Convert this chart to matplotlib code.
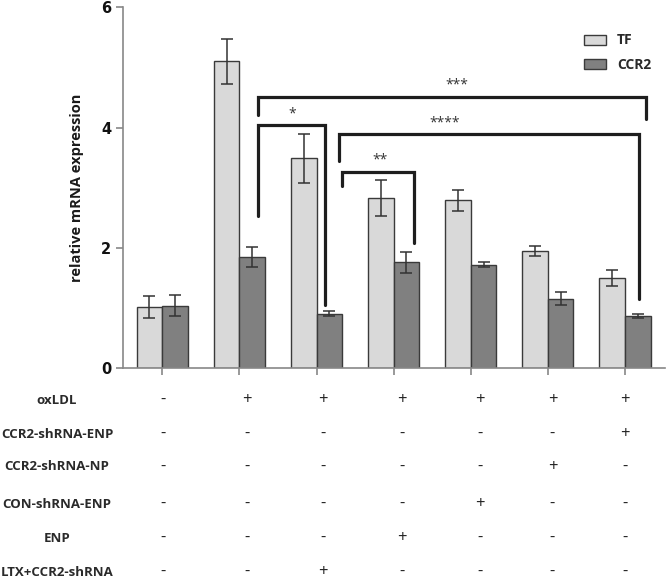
import numpy as np
import matplotlib
matplotlib.use("Agg")
import matplotlib.pyplot as plt
import matplotlib.transforms as mtransforms

plt.rcParams['font.family'] = ['Open Sans', 'DejaVu Sans']

# data
tf = [1.02, 5.10, 3.49, 2.83, 2.79, 1.95, 1.50]
tf_err = [0.18, 0.37, 0.41, 0.30, 0.17, 0.08, 0.14]
ccr2 = [1.04, 1.85, 0.91, 1.76, 1.72, 1.16, 0.87]
ccr2_err = [0.17, 0.17, 0.04, 0.18, 0.04, 0.11, 0.04]

row_names = ['oxLDL', 'CCR2-shRNA-ENP', 'CCR2-shRNA-NP', 'CON-shRNA-ENP',
             'ENP', 'LTX+CCR2-shRNA']
table = [['-', '+', '+', '+', '+', '+', '+'],
         ['-', '-', '-', '-', '-', '-', '+'],
         ['-', '-', '-', '-', '-', '+', '-'],
         ['-', '-', '-', '-', '+', '-', '-'],
         ['-', '-', '-', '+', '-', '-', '-'],
         ['-', '-', '+', '-', '-', '-', '-']]

# significance brackets: (x left, y left end, x right, y right end, top, label, label x)
brackets = [(1.24, 2.53, 2.11, 1.06, 4.04, '*', 1.68),
            (1.24, 4.21, 6.27, 4.15, 4.51, '***', 3.82),
            (2.29, 3.44, 6.18, 1.16, 3.89, '****', 3.66),
            (2.33, 3.03, 3.26, 2.09, 3.27, '**', 2.83)]

W, H = 668, 579
fig = plt.figure(figsize=(W / 100, H / 100), dpi=100)
ax = fig.add_axes([123 / W, 1 - 368.3 / H, (665 - 123) / W, (368.3 - 7.3) / H])

x = np.arange(len(tf))
bw = 0.333
ekw = dict(ecolor='#333333', elinewidth=1.1, capsize=4.5, capthick=1.1)
ax.bar(x - bw / 2, tf, bw, yerr=tf_err, color='#d9d9d9', edgecolor='#3a3a3a',
       linewidth=1.0, label='TF', error_kw=ekw)
ax.bar(x + bw / 2, ccr2, bw, yerr=ccr2_err, color='#808080', edgecolor='#3a3a3a',
       linewidth=1.0, label='CCR2', error_kw=ekw)

ax.set_xlim(-0.51, 6.52)
ax.set_ylim(0, 6)
ax.set_yticks([0, 2, 4, 6])
ax.set_xticks(x)
ax.set_xticklabels([])
for s in ['top', 'right']:
    ax.spines[s].set_visible(False)
for s in ['left', 'bottom']:
    ax.spines[s].set_color('#888888')
    ax.spines[s].set_linewidth(1.2)
ax.tick_params(axis='both', colors='#888888', length=5, width=1.2)
ax.tick_params(axis='y', labelcolor='#111111', labelsize=10.5)
for t in ax.get_yticklabels():
    t.set_fontweight('bold')
    t.set_family('DejaVu Sans')
ax.set_ylabel('relative mRNA expression', fontsize=10.5, fontweight='bold',
              color='#1a1a1a', labelpad=12)

for xl, yl, xr, yr, top, lab, lx in brackets:
    ax.plot([xl, xl, xr, xr], [yl, top, top, yr], color='#1e1e1e', lw=2.3,
            solid_joinstyle='miter', solid_capstyle='round', clip_on=False)
    ax.text(lx, top + 0.07, lab, ha='center', va='bottom', fontsize=10,
            color='#333333')

leg = ax.legend(loc='upper left', bbox_to_anchor=(571 / W, 1 - 21 / H),
                bbox_transform=fig.transFigure, frameon=False, fontsize=10,
                handlelength=1.6, handleheight=0.75, labelspacing=0.75,
                handletextpad=0.8)
for t in leg.get_texts():
    t.set_fontweight('bold')
    t.set_color('#2a2a2a')

# treatment table under the axis
col_x = [0.01, 1.10, 2.08, 3.11, 4.12, 5.06, 6.0]
row_y = [400, 434, 467, 504, 538, 572]
tr = mtransforms.blended_transform_factory(ax.transData, fig.transFigure)
for i, name in enumerate(row_names):
    yy = 1 - row_y[i] / H
    fig.text(57 / W, yy, name, ha='center', va='center', fontsize=9.5,
             fontweight='bold', color='#2a2a2a')
    for j, sym in enumerate(table[i]):
        ax.text(col_x[j], yy, sym, transform=tr, ha='center', va='center',
                fontsize=12, color='#222222', clip_on=False)

fig.savefig('out.png', dpi=100)
